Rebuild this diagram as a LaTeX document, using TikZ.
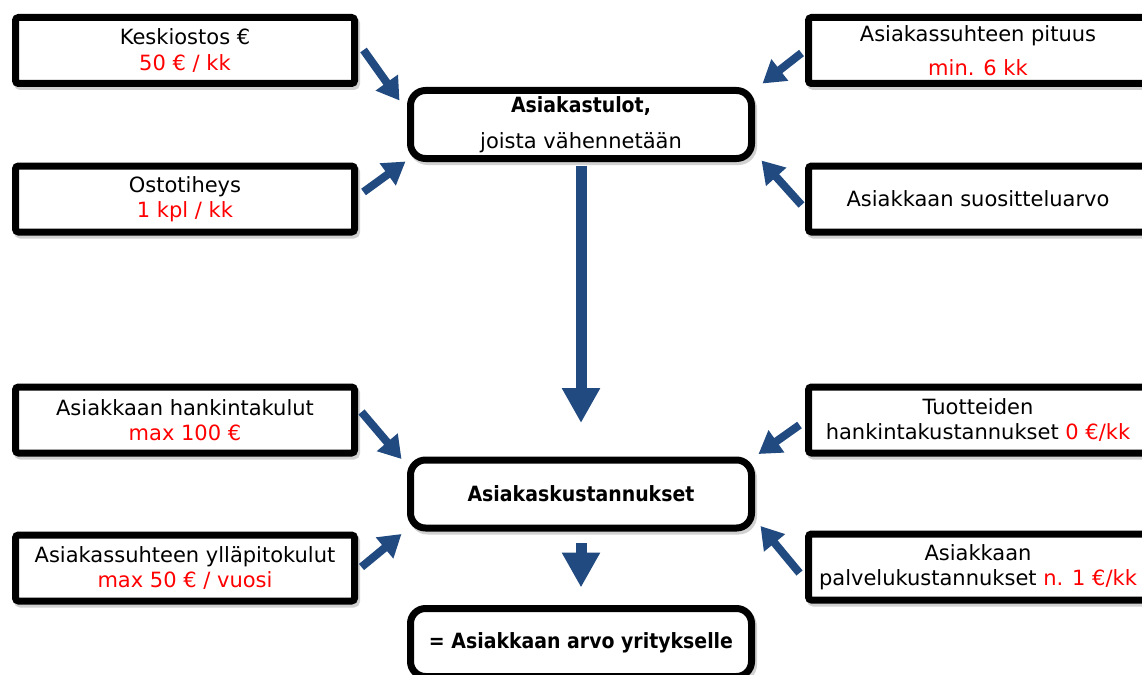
\documentclass[tikz,border=0pt]{standalone}
\usepackage{fontspec}
\setmainfont{DejaVu Sans}
\newfontfamily\condbold[FakeStretch=0.9]{DejaVu Sans}
\usetikzlibrary{arrows.meta,shadows}
\definecolor{arrowblue}{RGB}{33,74,128}
\definecolor{valred}{RGB}{255,0,0}

\tikzstyle{factor} = [draw, line width=7pt, fill=white, rounded corners=3pt,
    minimum width=339pt, minimum height=66pt, align=center,
    font=\fontsize{21}{25.5}\selectfont,
    drop shadow={shadow xshift=2pt, shadow yshift=-3pt, opacity=1,
        fill=black!18, draw=black!18, line width=7pt}]
\tikzstyle{result} = [factor, rounded corners=15pt,
    minimum width=341pt, minimum height=68pt]
\tikzstyle{flow} = [draw=arrowblue, line width=8pt,
    -{Triangle[width=26pt,length=22pt]}]
\tikzstyle{bigflow} = [draw=arrowblue, line width=11pt,
    -{Triangle[width=36pt,length=35pt]}]

\begin{document}
\begin{tikzpicture}[x=1pt, y=-1pt]
    \useasboundingbox (0,0) rectangle (1142,674);
    % We start by placing the result blocks
    \node [result] (tulot) at (581,124.5)
        {{\condbold\bfseries Asiakastulot,}\\[10.5pt]joista vähennetään};
    \node [result] (kust) at (581,494)
        {\condbold\bfseries Asiakaskustannukset};
    \node [result] (arvo) at (581,642.5)
        {\condbold\bfseries = Asiakkaan arvo yritykselle};

    % income factors
    \node [factor] (kesk) at (185,50.5)
        {Keskiostos €\\\textcolor{valred}{50 € / kk}};
    \node [factor] (osto) at (185,199)
        {Ostotiheys\\\textcolor{valred}{1 kpl / kk}};
    \node [factor] (pituus) at (978,50.5)
        {Asiakassuhteen pituus\\[8.5pt]\textcolor{valred}{min. 6 kk}};
    \node [factor] (suos) at (978,199) {Asiakkaan suositteluarvo};

    % cost factors
    \node [factor] (hank) at (185,420)
        {Asiakkaan hankintakulut\\\textcolor{valred}{max 100 €}};
    \node [factor] (yllap) at (185,568)
        {Asiakassuhteen ylläpitokulut\\\textcolor{valred}{max 50 € / vuosi}};
    \node [factor] (tuot) at (978,420)
        {Tuotteiden\\hankintakustannukset \textcolor{valred}{0 €/kk}};
    \node [factor] (palv) at (978,567)
        {Asiakkaan\\palvelukustannukset \textcolor{valred}{n. 1 €/kk}};

    \draw [flow] ([xshift=5.5pt,yshift=0.5pt]kesk.east)
        -- ([xshift=-7.5pt,yshift=-13.5pt]tulot.north west);
    \draw [flow] ([xshift=5.5pt,yshift=7pt]osto.east)
        -- ([xshift=-1.5pt,yshift=0.5pt]tulot.south west);
    \draw [flow] ([xshift=-3.5pt,yshift=-2.5pt]pituus.west)
        -- ([xshift=7.5pt,yshift=3.5pt]tulot.north east);
    \draw [flow] ([xshift=-3.5pt,yshift=-6pt]suos.west)
        -- ([xshift=6.5pt,yshift=1.5pt]tulot.south east);

    \draw [flow] ([xshift=3.5pt,yshift=8pt]hank.east)
        -- ([xshift=-5.5pt,yshift=-2.5pt]kust.north west);
    \draw [flow] ([xshift=3.5pt,yshift=1pt]yllap.east)
        -- ([xshift=-5.5pt,yshift=-2.5pt]kust.south west);
    \draw [flow] ([xshift=-5.5pt,yshift=-5pt]tuot.west)
        -- ([xshift=3.5pt,yshift=2.5pt]kust.north east);
    \draw [flow] ([xshift=-5.5pt,yshift=-6pt]palv.west)
        -- ([xshift=5.5pt,yshift=5.5pt]kust.south east);

    \draw [bigflow, shorten <=3.5pt, shorten >=33.5pt] (tulot) -- (kust);
    \draw [bigflow, shorten <=11.5pt, shorten >=17.5pt] (kust) -- (arvo);
\end{tikzpicture}
\end{document}
